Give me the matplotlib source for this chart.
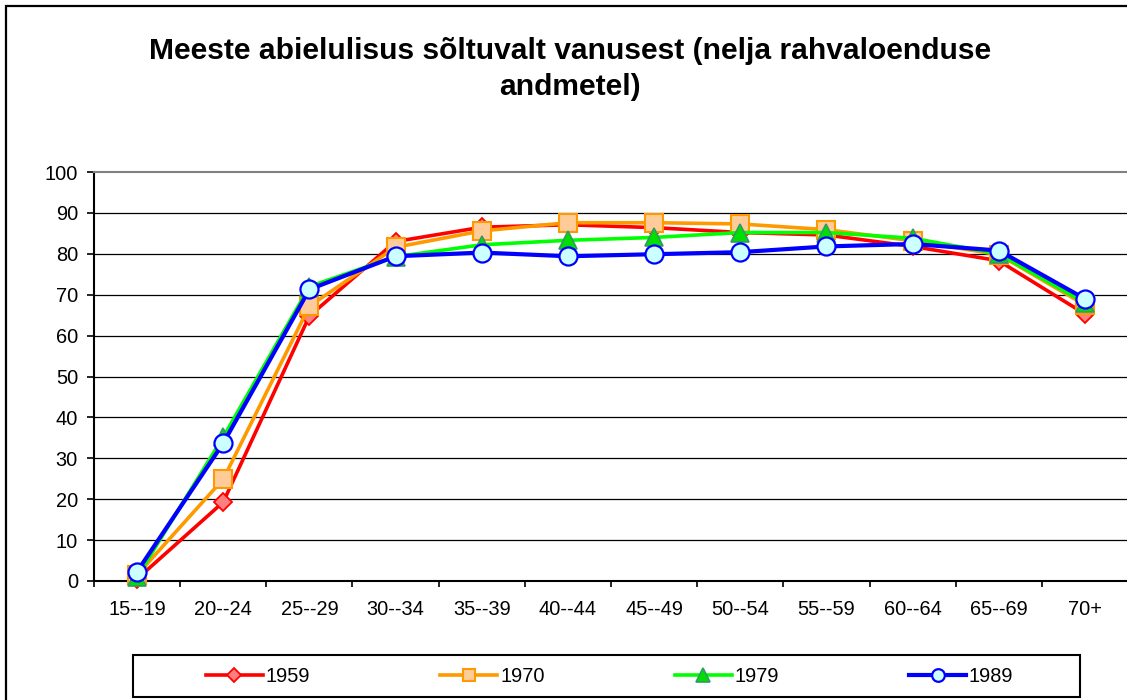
import matplotlib
matplotlib.use("Agg")
import numpy as np
import matplotlib.pyplot as plt
from matplotlib.patches import Rectangle

plt.rcParams['font.family'] = ['Liberation Sans', 'DejaVu Sans']

# Age groups and share of married men (%) by census year
age_groups = ['15--19', '20--24', '25--29', '30--34', '35--39', '40--44',
              '45--49', '50--54', '55--59', '60--64', '65--69', '70+']
married_1959 = [0.5, 19.3, 64.8, 83.0, 86.5, 87.1, 86.4, 85.2, 84.6, 81.8, 78.3, 65.3]
married_1970 = [1.5, 24.9, 67.2, 81.6, 85.6, 87.6, 87.6, 87.3, 85.9, 83.2, 79.8, 67.5]
married_1979 = [1.0, 35.2, 72.0, 79.3, 82.2, 83.3, 84.0, 85.2, 85.2, 83.8, 80.0, 68.0]
married_1989 = [2.3, 33.7, 71.3, 79.4, 80.3, 79.4, 79.9, 80.4, 81.8, 82.4, 80.8, 69.0]
years = ['1959', '1970', '1979', '1989']
y_ticks = list(range(0, 101, 10))

title = "Meeste abielulisus sõltuvalt vanusest (nelja rahvaloenduse\nandmetel)"

W, H = 1127, 700
fig = plt.figure(figsize=(W / 100, H / 100), dpi=100)


def px_box(left, top, right, bottom):
    return [left / W, 1 - bottom / H, (right - left) / W, (bottom - top) / H]


# Outer chart frame
fig.patches.append(Rectangle((6 / W, -0.1), 1.2, 1 - 6 / H + 0.1,
                             transform=fig.transFigure, fill=False,
                             ec='black', lw=1.6, zorder=0))

ax = fig.add_axes(px_box(94, 172, 1128, 581))

styles = [
    dict(color='#FF0000', lw=2.6, marker='D', ms=9.5, mfc='#FF7F7F', mec='#FF0000', mew=1.3),
    dict(color='#FF9900', lw=2.6, marker='s', ms=12.5, mfc='#FFCC99', mec='#FF9900', mew=1.5),
    dict(color='#00FF00', lw=2.6, marker='^', ms=13.5, mfc='#00E000', mec='#339966', mew=1.2),
    dict(color='#0000FF', lw=3.0, marker='o', ms=13, mfc='#CCFFFF', mec='#0000FF', mew=1.6),
]
series = [married_1959, married_1970, married_1979, married_1989]
x = np.arange(len(age_groups))
handles = []
for i, (vals, st, yr) in enumerate(zip(series, styles, years)):
    ln, = ax.plot(x, vals, label=yr, zorder=3 + i, clip_on=False, **st)
    handles.append(ln)

ax.set_xlim(-0.5, len(age_groups) - 0.5)
ax.set_ylim(0, 100)

ax.set_yticks(y_ticks)
ax.set_yticklabels([str(v) for v in y_ticks])
ax.tick_params(axis='y', direction='out', length=5, width=1.2, pad=6.5,
               labelsize=14.4, color='black')

ax.set_xticks(x)
ax.set_xticklabels(age_groups)
ax.set_xticks(np.arange(-0.5, len(age_groups), 1), minor=True)
ax.tick_params(axis='x', which='major', length=0, pad=14, labelsize=14.4)
ax.tick_params(axis='x', which='minor', direction='out', length=4.5, width=1.2,
               color='black')

ax.yaxis.grid(True, color='black', lw=0.9)
ax.set_axisbelow(True)
ax.get_ygridlines()[-1].set_visible(False)
ax.get_ygridlines()[0].set_visible(False)

for side in ('left', 'bottom'):
    ax.spines[side].set_color('black')
    ax.spines[side].set_linewidth(1.5)
ax.spines['top'].set_color('#808080')
ax.spines['top'].set_linewidth(1.5)
ax.spines['right'].set_visible(False)

fig.text(570 / W, 1 - 69 / H, title, ha='center', va='center',
         fontsize=21.6, fontweight='bold', linespacing=1.4)

# Legend frame and entries
fig.patches.append(Rectangle((133 / W, 1 - 697 / H), (1080 - 133) / W, (697 - 655) / H,
                             transform=fig.transFigure, fill=False,
                             ec='black', lw=1.5, zorder=1))
fig.legend(handles=handles, loc='center', bbox_to_anchor=(609.5 / W, 1 - 676 / H),
           ncol=4, frameon=False, handlelength=2.85, handletextpad=0.15,
           columnspacing=6.5, markerscale=0.7, fontsize=14.4)

fig.savefig('out.png', dpi=100)
